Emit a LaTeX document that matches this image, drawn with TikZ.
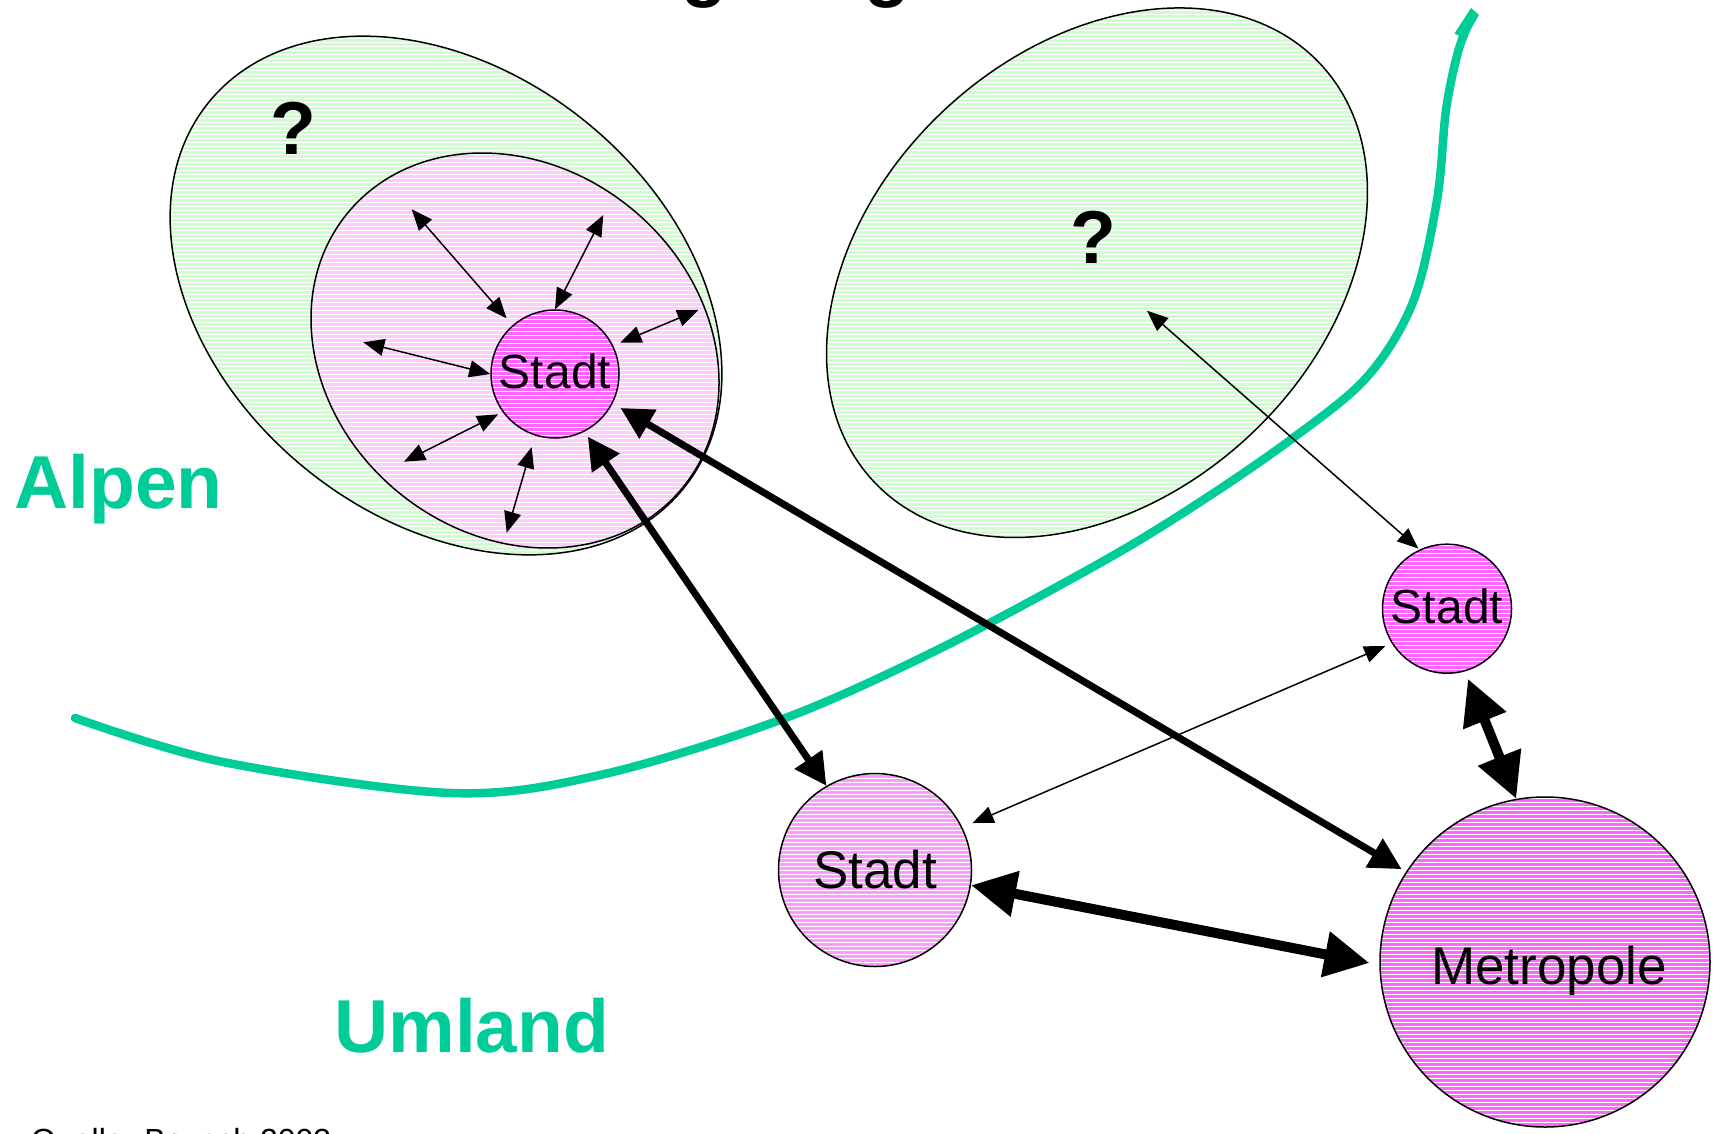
\documentclass[tikz,border=0pt]{standalone}
\usepackage{fontspec}
\setmainfont{Liberation Sans}
\usetikzlibrary{arrows.meta}
\definecolor{gbase}{HTML}{CCFFCC}
\definecolor{pbase}{HTML}{FFCCFF}
\definecolor{mbase}{HTML}{FF66FF}
\definecolor{lbase}{HTML}{FF99FF}
\definecolor{alpgreen}{HTML}{00CC99}
% x, y, a, b, angle, colour
\newcommand\hatchell[6]{%
  \fill[#6,shift={(#1,#2)},rotate=#5] (0,0) ellipse [x radius=#3pt,y radius=#4pt];
  \begin{scope}
    \clip[shift={(#1,#2)},rotate=#5] (0,0) ellipse [x radius=#3pt,y radius=#4pt];
    \foreach \yy in {2,6,...,1130} {\draw[white,line width=1pt] (0,\yy) -- (1713,\yy);}
  \end{scope}
  \draw[line width=1.5pt,shift={(#1,#2)},rotate=#5] (0,0) ellipse [x radius=#3pt,y radius=#4pt];}
\tikzset{
  hatch/.style={path picture={\foreach \k in {0,...,#1}{\draw[white,line width=1pt] ([yshift=-\k*4pt-1pt]path picture bounding box.north west) -- ([yshift=-\k*4pt-1pt]path picture bounding box.north east);}}},
  city/.style={circle, draw, line width=1.5pt, inner sep=0pt},
  tarr/.style={line width=1.5pt, {Triangle[length=21pt,width=17pt]}-{Triangle[length=21pt,width=17pt]}},
  marr/.style={line width=7pt, {Triangle[length=32pt,width=32pt]}-{Triangle[length=32pt,width=32pt]}},
  barr/.style={line width=10pt, {Triangle[length=45pt,width=44pt]}-{Triangle[length=45pt,width=44pt]}},
  region/.style={text=alpgreen, font=\fontsize{75}{80}\selectfont\bfseries, inner sep=0pt, anchor=base west},
  qmark/.style={font=\fontsize{75}{80}\selectfont\bfseries, inner sep=0pt},
}
\begin{document}
\begin{tikzpicture}[x=1pt,y=-1pt]
\useasboundingbox (0,0) rectangle (1713,1133);
\fill[white] (0,0) rectangle (1713,1133);

% title remnants (descenders only visible)
\node[qmark, anchor=base west] (tg1) at (681,-7.5) {g};
\node[qmark, anchor=base west] (tg2) at (864,-7.5) {g};

% regions
\hatchell{446}{295.5}{306}{223}{-39.2}{gbase}
\hatchell{515}{350.5}{216.6}{183.6}{-39.3}{pbase}
\hatchell{1097}{272.7}{305.7}{223.1}{43}{gbase}

% border curve
\draw[alpgreen, line width=8.5pt, line cap=round] plot[smooth, tension=0.55] coordinates {(75,718) (223,762) (451,793) (600,775) (780,720) (933,652) (1100,563) (1200,502) (1293,438) (1367,377) (1413,302) (1437,200) (1446,110) (1458,52) (1471,18)};
\fill[alpgreen] (1471,8) -- (1479,15) -- (1465,39) -- (1454.5,33.5) -- cycle;

% cities
\node[city, minimum size=128pt, fill=mbase, hatch=32, text depth=6pt, font=\fontsize{48}{50}\selectfont] (stadtA) at (555,374) {Stadt};
\node[city, minimum size=193pt, fill=lbase, hatch=49, font=\fontsize{53}{55}\selectfont] (stadtB) at (875,870) {Stadt};
\node[city, minimum size=129pt, fill=mbase, hatch=33, text depth=6pt, font=\fontsize{48}{50}\selectfont] (stadtC) at (1447,608.7) {Stadt};
\node[city, minimum size=330pt, fill=mbase, hatch=83, text height=56.6pt, text depth=11pt, font=\fontsize{53}{55}\selectfont] (metro) at (1545,962) {\hspace*{8pt}Metropole};

% question marks
\node[qmark] (qA) at (293.5,128.7) {?};
\node[qmark] (qB) at (1093.5,237.5) {?};

% free ends
\coordinate (o1) at (411.7,209.3);
\coordinate (o2) at (603.3,215);
\coordinate (o3) at (698.3,310);
\coordinate (o4) at (363.3,342.3);
\coordinate (o5) at (404,461.7);
\coordinate (o6) at (506.7,532.7);
\coordinate (q2) at (1147,310.7);

% local arrows
\draw[tarr, shorten >=9pt] (o1) -- (stadtA.131.4);
\draw[tarr] (o2) -- (stadtA.90);
\draw[tarr, shorten >=7.7pt] (o3) -- (stadtA.26.2);
\draw[tarr] (o4) -- (stadtA.180.6);
\draw[tarr, shorten >=5pt] (o5) -- (stadtA.216.2);
\draw[tarr, shorten >=12pt] (o6) -- (stadtA.252.7);

% long arrows
\draw[marr, shorten <=6pt] (stadtA.-63.2) -- (stadtB.120.5);
\draw[marr, shorten <=9pt, shorten >=5pt] (stadtA.-27.4) -- (metro.147.5);
\draw[barr, shorten >=10pt] (stadtB.-9.8) -- (metro.181.5);
\draw[barr, shorten <=8pt] (stadtC.-74.2) -- (metro.100.6);
\draw[tarr, shorten <=11pt, shorten >=7pt] (stadtB.26.3) -- (stadtC.212.1);
\draw[tarr, shorten <=1.5pt] (stadtC.115.8) -- (q2);

% labels
\node[region] (alpen) at (14,508) {Alpen};
\node[region] (umland) at (334,1052.7) {Umland};
\node[anchor=base west, inner sep=0pt, font=\fontsize{32}{34}\selectfont] (quelle) at (31,1151) {Quelle: Bausch 2003};
\end{tikzpicture}
\end{document}
